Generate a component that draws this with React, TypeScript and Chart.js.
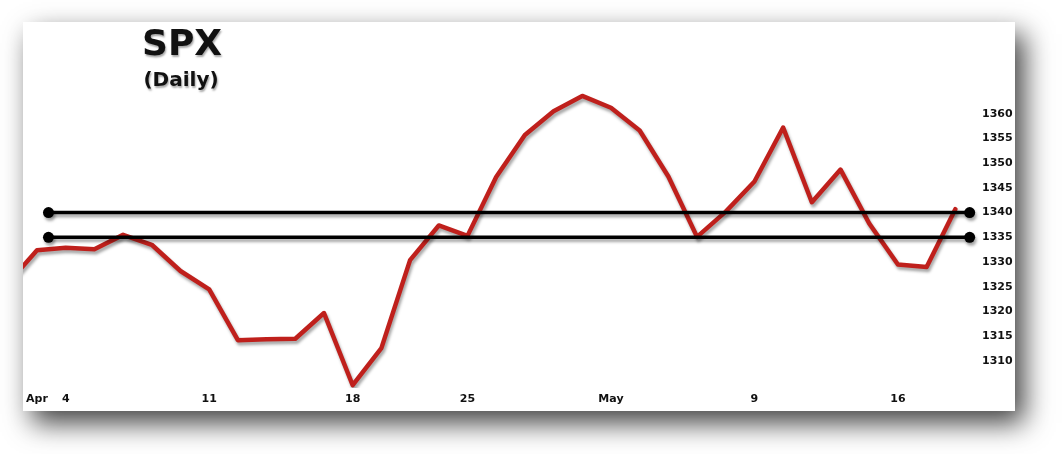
import React, { useEffect, useRef } from "react";
import { Chart, registerables } from "chart.js";
Chart.register(...registerables);

// Trading days (index 0 = Apr 1; Apr 22 Good Friday holiday skipped)
const dates = [
  "Mar 31", "Apr 1", "Apr 4", "Apr 5", "Apr 6", "Apr 7", "Apr 8",
  "Apr 11", "Apr 12", "Apr 13", "Apr 14", "Apr 15",
  "Apr 18", "Apr 19", "Apr 20", "Apr 21",
  "Apr 25", "Apr 26", "Apr 27", "Apr 28", "Apr 29",
  "May 2", "May 3", "May 4", "May 5", "May 6",
  "May 9", "May 10", "May 11", "May 12", "May 13",
  "May 16", "May 17", "May 18",
];
const dayIndex = [
  -1, 0, 1, 2, 3, 4, 5, 6, 7, 8, 9, 10, 11, 12, 13, 14, 15, 16, 17, 18, 19,
  20, 21, 22, 23, 24, 25, 26, 27, 28, 29, 30, 31, 32,
];
const closes = [
  1325.8, 1332.4, 1332.9, 1332.6, 1335.5, 1333.5, 1328.2,
  1324.5, 1314.2, 1314.4, 1314.5, 1319.7,
  1305.1, 1312.6, 1330.4, 1337.4,
  1335.3, 1347.2, 1355.7, 1360.5, 1363.6,
  1361.2, 1356.6, 1347.3, 1335.1, 1340.2,
  1346.3, 1357.2, 1342.1, 1348.7, 1337.8,
  1329.5, 1329.0, 1340.7,
];

const xTickIndex = [0, 1, 6, 11, 15, 20, 25, 30];
const xTickLabels = ["Apr", "4", "11", "18", "25", "May", "9", "16"];
const yTickValues = [1310, 1315, 1320, 1325, 1330, 1335, 1340, 1345, 1350, 1355, 1360];

const levels = [1340, 1335];
const levelStart = 0.4;
const levelEnd = 32.5;

const titleText = "SPX";
const subtitleText = "(Daily)";

const panelPlugin = {
  id: "panel",
  beforeDraw(chart: any) {
    const ctx = chart.ctx;
    ctx.save();
    ctx.fillStyle = "#ffffff";
    ctx.fillRect(0, 0, chart.width, chart.height);
    ctx.shadowColor = "rgba(0,0,0,0.75)";
    ctx.shadowBlur = 26;
    ctx.shadowOffsetX = 9;
    ctx.shadowOffsetY = 12;
    ctx.fillRect(23, 22, 992, 389);
    ctx.restore();
  },
  beforeDatasetsDraw(chart: any) {
    const ctx = chart.ctx;
    ctx.save();
    ctx.shadowColor = "rgba(0,0,0,0.35)";
    ctx.shadowBlur = 3;
    ctx.shadowOffsetX = 1.5;
    ctx.shadowOffsetY = 3;
  },
  afterDatasetsDraw(chart: any) {
    chart.ctx.restore();
  },
  afterDraw(chart: any) {
    const ctx = chart.ctx;
    ctx.save();
    ctx.fillStyle = "#111111";
    ctx.textAlign = "center";
    ctx.textBaseline = "alphabetic";
    ctx.shadowColor = "rgba(0,0,0,0.35)";
    ctx.shadowBlur = 2;
    ctx.shadowOffsetX = 1;
    ctx.shadowOffsetY = 1.5;
    ctx.font = "bold 36px 'DejaVu Sans'";
    ctx.fillText(titleText, 182, 55);
    ctx.font = "bold 20px 'DejaVu Sans'";
    ctx.fillText(subtitleText, 181, 86);
    ctx.restore();
  },
};

export default function App() {
  const ref = useRef<HTMLCanvasElement>(null);
  useEffect(() => {
    const spx = dayIndex.map((x, i) => ({ x, y: closes[i] }));
    const levelSets = levels.map((v) => ({
      type: "line" as const,
      label: String(v),
      data: [
        { x: levelStart, y: v },
        { x: levelEnd, y: v },
      ],
      borderColor: "#000000",
      backgroundColor: "#000000",
      borderWidth: 3.5,
      pointRadius: 5.5,
      pointBorderWidth: 0,
      pointBackgroundColor: "#000000",
      tension: 0,
      clip: false as any,
    }));
    const chart = new Chart(ref.current!, {
      type: "line",
      data: {
        datasets: [
          ...levelSets,
          {
            label: "SPX",
            data: spx,
            borderColor: "#bf201c",
            borderWidth: 4.5,
            pointRadius: 0,
            tension: 0,
            borderJoinStyle: "round",
            borderCapStyle: "round",
            clip: 0 as any,
          },
        ],
      },
      options: {
        responsive: false,
        animation: false,
        devicePixelRatio: 1,
        layout: { padding: { left: 23, top: 22, right: 47, bottom: 45 } },
        plugins: {
          legend: { display: false },
          tooltip: { enabled: false },
          title: { display: false },
        },
        scales: {
          x: {
            type: "linear",
            min: -0.488,
            max: 32.79,
            grid: { display: false, drawTicks: false },
            border: { display: false },
            afterFit: (s: any) => {
              s.height = 21;
            },
            afterBuildTicks: (s: any) => {
              s.ticks = xTickIndex.map((v) => ({ value: v }));
            },
            ticks: {
              autoSkip: false,
              maxRotation: 0,
              padding: 5,
              color: "#111111",
              font: { family: "'DejaVu Sans'", weight: "bold", size: 11 },
              callback: (v: any) => {
                const k = xTickIndex.indexOf(Number(v));
                return k >= 0 ? xTickLabels[k] : "";
              },
            },
          },
          y: {
            type: "linear",
            position: "right",
            min: 1304.54,
            max: 1378.54,
            grid: { display: false, drawTicks: false },
            border: { display: false },
            afterFit: (s: any) => {
              s.width = 37;
            },
            afterBuildTicks: (s: any) => {
              s.ticks = yTickValues.map((v) => ({ value: v }));
            },
            ticks: {
              autoSkip: false,
              padding: 4,
              color: "#111111",
              font: { family: "'DejaVu Sans'", weight: "bold", size: 11 },
              callback: (v: any) => String(v),
            },
          },
        },
      },
      plugins: [panelPlugin],
    });
    return () => chart.destroy();
  }, []);
  return (
    <div style={{ position: "absolute", left: 0, top: 0, width: 1062, height: 454 }}>
      <canvas ref={ref} width={1062} height={454} style={{ display: "block", width: 1062, height: 454 }} />
    </div>
  );
}
